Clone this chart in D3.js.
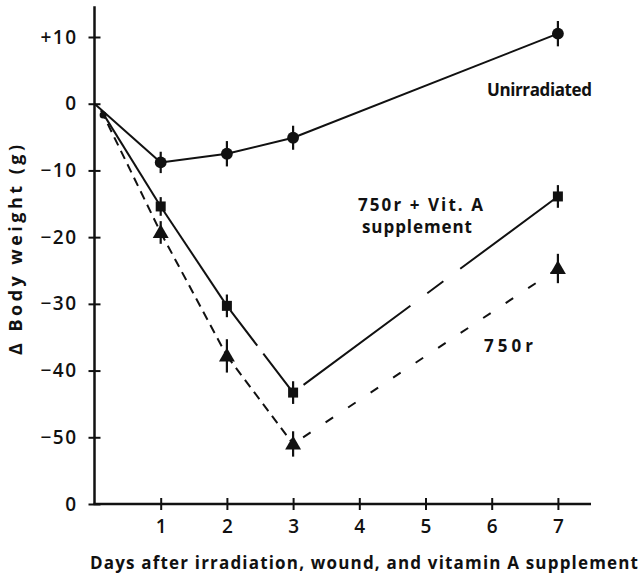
<!DOCTYPE html>
<html>
<head>
<meta charset="utf-8">
<script src="https://cdn.jsdelivr.net/npm/d3@7"></script>
<style>
  html, body { margin: 0; padding: 0; background: #fff; }
  text { font-family: "Open Sans", "Lato", sans-serif; fill: #111; }
</style>
</head>
<body>
<div id="chart"></div>
<script>
// days after irradiation
var days = [0, 1, 2, 3, 7];
var daysIrr = [0.1, 1, 2, 3, 7];
var xTicks = [1, 2, 3, 4, 5, 6, 7];
var yTicks = [10, 0, -10, -20, -30, -40, -50, -60];
var yTickLabels = ["+10", "0", "\u221210", "\u221220", "\u221230", "\u221240", "\u221250", "0"];

// body weight change (g) and error (g)
var unirr    = [0, -8.8, -7.5, -5.1, 10.5];
var unirrErr = [0, 1.6, 1.9, 1.8, 1.9];
var vitA     = [-1.0, -15.4, -30.3, -43.3, -13.9];
var vitAErr  = [0, 1.4, 1.7, 1.7, 1.7];
var rad      = [-1.0, -19.3, -37.8, -51.0, -24.7];
var radErr   = [0, 1.7, 2.5, 1.9, 2.2];

var svg = d3.select("#chart").append("svg")
    .attr("width", 642).attr("height", 575);

var x = d3.scaleLinear().domain([0, 7.5]).range([94.5, 591]);
var y = d3.scaleLinear().domain([-60, 10]).range([504, 37]);

// axes
var yAxis = d3.axisLeft(y).tickValues(yTicks)
    .tickFormat(function(d, i) { return yTickLabels[i]; })
    .tickSize(6).tickPadding(11);
var gy = svg.append("g").attr("transform", "translate(" + x(0) + ",0)").call(yAxis);
gy.select(".domain").remove();
gy.selectAll(".tick line").attr("x1", -6).attr("x2", 6)
    .attr("stroke", "#111").attr("stroke-width", 2);
gy.selectAll(".tick text").attr("font-size", 19).attr("font-weight", 600)
    .attr("fill", "#111").style("letter-spacing", "1.5px");
gy.append("line").attr("x1", 0).attr("x2", 0)
    .attr("y1", y(14.6)).attr("y2", y(-60))
    .attr("stroke", "#111").attr("stroke-width", 2.5);

var xAxis = d3.axisBottom(d3.scaleLinear().domain(x.domain()).range(x.range()))
    .tickValues(xTicks).tickFormat(d3.format("d")).tickSize(6).tickPadding(10);
var gx = svg.append("g").attr("transform", "translate(0," + y(-60) + ")").call(xAxis);
gx.select(".domain").remove();
gx.selectAll(".tick line").attr("y1", -6).attr("y2", 6)
    .attr("stroke", "#111").attr("stroke-width", 2);
gx.selectAll(".tick text").attr("font-size", 19).attr("font-weight", 600).attr("fill", "#111");
gx.append("line").attr("x1", x(0) - 1).attr("x2", x(7.5))
    .attr("y1", 0).attr("y2", 0)
    .attr("stroke", "#111").attr("stroke-width", 2.5);

// axis titles
svg.append("text")
    .attr("x", 90).attr("y", 569)
    .attr("textLength", 548).attr("lengthAdjust", "spacing")
    .attr("font-size", 17).attr("font-weight", 700)
    .text("Days after irradiation, wound, and vitamin A supplement");

svg.append("text")
    .attr("transform", "translate(22,355) rotate(-90)")
    .attr("textLength", 210).attr("lengthAdjust", "spacing")
    .attr("font-size", 18).attr("font-weight", 700)
    .text("\u0394 Body weight (g)");

function pts(xs, ys) { return xs.map(function(d, i) { return [x(d), y(ys[i])]; }); }

// lines, drawn segment by segment so each keeps its own dash pattern
function segLine(p, dashes) {
  for (var i = 0; i < p.length - 1; i++) {
    svg.append("path")
      .attr("d", d3.line()([p[i], p[i + 1]]))
      .attr("fill", "none").attr("stroke", "#111").attr("stroke-width", 2)
      .attr("stroke-dasharray", dashes[i]);
  }
}

segLine(pts(days, unirr), [null, null, null, null]);
segLine(pts(daysIrr, vitA), [null, null, "0,6,44,10,70", "0,13,133,21,20,21,130"]);
segLine(pts(daysIrr, rad), ["9,6", "9,6", "9,6", "0,12,9,6"]);

// start blob
svg.append("circle").attr("cx", x(0.13)).attr("cy", y(-1.7)).attr("r", 3.5).attr("fill", "#111");

// error bars
function errBars(xs, ys, es) {
  svg.append("g").selectAll("line").data(xs.slice(1)).join("line")
    .attr("x1", function(d) { return x(d); }).attr("x2", function(d) { return x(d); })
    .attr("y1", function(d, i) { return y(ys[i + 1] + es[i + 1]); })
    .attr("y2", function(d, i) { return y(ys[i + 1] - es[i + 1]); })
    .attr("stroke", "#111").attr("stroke-width", 2.2);
}
errBars(days, unirr, unirrErr);
errBars(daysIrr, vitA, vitAErr);
errBars(daysIrr, rad, radErr);

// markers
svg.append("g").selectAll("path").data(pts(days, unirr).slice(1)).join("path")
  .attr("transform", function(d) { return "translate(" + d[0] + "," + d[1] + ")"; })
  .attr("d", d3.symbol(d3.symbolCircle, 110)).attr("fill", "#111");
svg.append("g").selectAll("path").data(pts(daysIrr, vitA).slice(1)).join("path")
  .attr("transform", function(d) { return "translate(" + d[0] + "," + d[1] + ")"; })
  .attr("d", d3.symbol(d3.symbolSquare, 100)).attr("fill", "#111");
svg.append("g").selectAll("path").data(pts(daysIrr, rad).slice(1)).join("path")
  .attr("transform", function(d) { return "translate(" + d[0] + "," + (d[1] + 1) + ")"; })
  .attr("d", d3.symbol(d3.symbolTriangle, 110)).attr("fill", "#111");

// series labels
var labels = [
  { t: "Unirradiated", x: 487, y: 96, w: 105 },
  { t: "750r + Vit. A", x: 358, y: 211, w: 125 },
  { t: "supplement", x: 362, y: 233, w: 110 },
  { t: "750r", x: 484, y: 352, w: 49 }
];
svg.append("g").selectAll("text").data(labels).join("text")
  .attr("x", function(d) { return d.x; }).attr("y", function(d) { return d.y; })
  .attr("textLength", function(d) { return d.w; }).attr("lengthAdjust", "spacing")
  .attr("font-size", 17).attr("font-weight", 700)
  .text(function(d) { return d.t; });
</script>
</body>
</html>
